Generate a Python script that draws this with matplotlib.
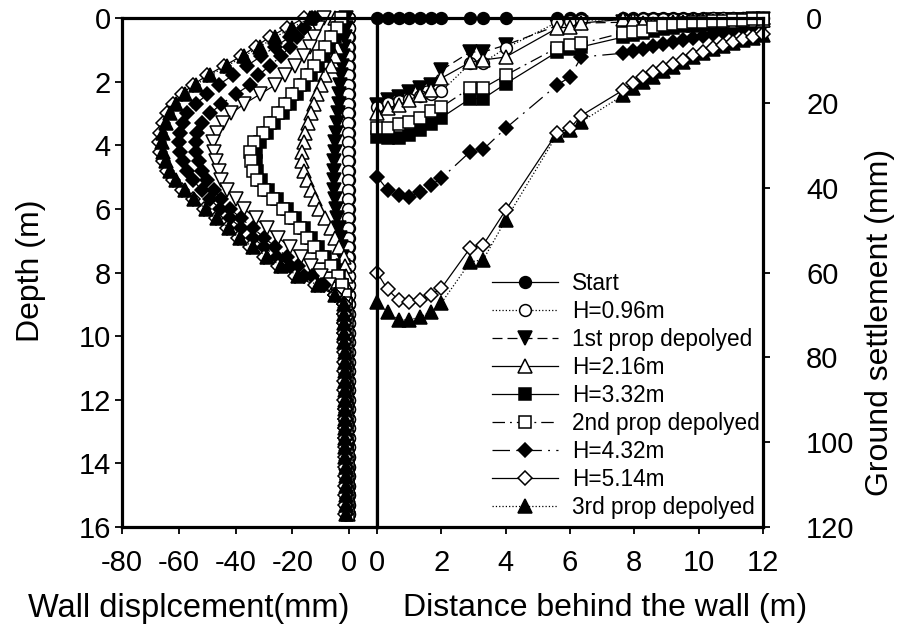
import matplotlib
matplotlib.use('Agg')
import matplotlib.pyplot as plt
from matplotlib.lines import Line2D

plt.rcParams['font.family'] = ['Liberation Sans', 'DejaVu Sans']
plt.rcParams['axes.unicode_minus'] = False

# ---------------- Left panel: wall displacement (mm) vs depth (m) ----------------
depth = [0.0, 0.3, 0.6, 0.9, 1.2, 1.5, 1.8, 2.1, 2.4, 2.7, 3.0, 3.3, 3.6, 3.9, 4.2,
         4.5, 4.8, 5.1, 5.4, 5.7, 6.0, 6.3, 6.6, 6.9, 7.2, 7.5, 7.8, 8.1, 8.4, 8.7,
         9.0, 9.3, 9.6, 9.9, 10.2, 10.5, 10.8, 11.1, 11.4, 11.7, 12.0, 12.3, 12.6,
         12.9, 13.2, 13.5, 13.8, 14.1, 14.4, 14.7, 15.0, 15.3, 15.6]

wall_start = [
    0.0, 0.0, 0.0, 0.0, 0.0, 0.0, 0.0, 0.0, 0.0, 0.0, 0.0, 0.0, 0.0, 0.0, 0.0,
    0.0, 0.0, 0.0, 0.0, 0.0, 0.0, 0.0, 0.0, 0.0, 0.0, 0.0, 0.0, 0.0, 0.0, 0.0,
    0.0, 0.0, 0.0, 0.0, 0.0, 0.0, 0.0, 0.0, 0.0, 0.0, 0.0, 0.0, 0.0, 0.0, 0.0,
    0.0, 0.0, 0.0, 0.0, 0.0, 0.0, 0.0, 0.0]
wall_h096 = [
    0.0, -0.2, -0.3, -0.3, -0.4, -0.4, -0.5, -0.5, -0.5, -0.5, -0.5, -0.5, -0.5, -0.5, -0.5,
    -0.5, -0.5, -0.5, -0.5, -0.4, -0.4, -0.4, -0.3, -0.3, -0.3, -0.3, -0.2, -0.2, -0.2, -0.2,
    -0.2, -0.2, -0.2, -0.2, -0.2, -0.2, -0.2, -0.2, -0.2, -0.2, -0.2, -0.2, -0.2, -0.2, -0.2,
    -0.2, -0.2, -0.2, -0.2, -0.2, -0.2, -0.2, -0.2]
wall_prop1 = [
    -1.0, -1.3, -1.6, -2.0, -2.3, -2.6, -2.9, -3.2, -3.5, -3.8, -4.1, -4.4, -4.7, -5.0, -5.2,
    -5.4, -5.5, -5.5, -5.3, -5.0, -4.6, -4.2, -3.8, -3.4, -3.0, -2.6, -2.3, -2.0, -1.8, -1.6,
    -1.5, -1.4, -1.4, -1.3, -1.3, -1.3, -1.2, -1.2, -1.2, -1.2, -1.1, -1.1, -1.1, -1.1, -1.0,
    -1.0, -1.0, -1.0, -1.0, -0.9, -0.9, -0.9, -0.9]
wall_h216 = [
    -5.0, -4.5, -4.5, -4.5, -5.0, -6.5, -8.5, -10.0, -11.5, -12.5, -13.5, -14.5, -15.5, -16.0, -16.5,
    -16.5, -16.0, -15.0, -13.5, -12.0, -10.5, -8.5, -6.5, -5.0, -3.5, -2.0, -1.5, -1.0, -1.0, -1.0,
    -1.0, -0.9, -0.9, -0.9, -0.9, -0.9, -0.8, -0.8, -0.8, -0.8, -0.8, -0.8, -0.8, -0.7, -0.7,
    -0.7, -0.7, -0.7, -0.7, -0.6, -0.6, -0.6, -0.6]
wall_h332 = [
    -2.5, -3.5, -5.0, -7.0, -9.0, -11.0, -13.5, -16.0, -18.5, -21.0, -23.5, -26.5, -29.0, -31.5, -33.0,
    -33.0, -32.5, -31.0, -28.5, -25.5, -22.0, -19.0, -16.0, -13.5, -11.0, -8.5, -5.5, -3.5, -2.5, -1.5,
    -1.2, -1.2, -1.2, -1.2, -1.1, -1.1, -1.1, -1.1, -1.1, -1.0, -1.0, -1.0, -1.0, -1.0, -1.0,
    -0.9, -0.9, -0.9, -0.9, -0.9, -0.9, -0.8, -0.8]
wall_prop2 = [
    -3.0, -4.5, -6.5, -8.5, -10.5, -12.5, -15.0, -17.5, -20.0, -22.5, -25.0, -28.0, -30.5, -33.5, -35.0,
    -34.5, -34.0, -32.5, -30.0, -27.0, -23.5, -20.5, -17.5, -15.0, -12.5, -9.5, -6.5, -4.0, -2.5, -1.5,
    -1.0, -0.9, -0.9, -0.9, -0.8, -0.8, -0.8, -0.8, -0.8, -0.8, -0.7, -0.7, -0.7, -0.7, -0.7,
    -0.7, -0.6, -0.6, -0.6, -0.6, -0.6, -0.6, -0.6]
wall_h432 = [
    -12.0, -16.0, -21.0, -26.0, -31.0, -36.0, -41.0, -46.0, -50.0, -54.0, -57.0, -58.5, -59.5, -60.0, -59.5,
    -58.5, -57.0, -55.0, -52.0, -49.0, -45.5, -42.0, -38.0, -34.0, -30.0, -25.5, -21.0, -16.0, -10.0, -5.0,
    -2.0, -1.8, -1.7, -1.7, -1.6, -1.6, -1.6, -1.5, -1.5, -1.5, -1.5, -1.4, -1.4, -1.4, -1.4,
    -1.3, -1.3, -1.3, -1.3, -1.2, -1.2, -1.2, -1.2]
wall_extra_dia = [
    -13.0, -16.0, -18.5, -21.0, -24.0, -28.0, -32.0, -35.0, -40.0, -45.0, -49.0, -52.0, -53.5, -54.0, -54.0,
    -53.0, -52.0, -50.0, -47.5, -45.0, -42.0, -38.0, -34.0, -30.0, -26.0, -22.0, -18.0, -13.0, -9.0, -5.0,
    -2.0, -1.6, -1.5, -1.5, -1.5, -1.4, -1.4, -1.4, -1.4, -1.3, -1.3, -1.3, -1.3, -1.2, -1.2,
    -1.2, -1.2, -1.1, -1.1, -1.1, -1.1, -1.0, -1.0]
wall_extra_tri = [
    -9.0, -11.0, -12.5, -14.0, -16.0, -19.0, -22.5, -26.0, -31.5, -37.0, -41.5, -44.5, -46.5, -48.0, -47.5,
    -47.0, -46.0, -45.0, -43.0, -40.0, -37.0, -33.0, -29.0, -25.0, -21.0, -17.0, -13.5, -10.0, -7.0, -4.0,
    -2.0, -1.3, -1.2, -1.2, -1.2, -1.1, -1.1, -1.1, -1.1, -1.0, -1.0, -1.0, -1.0, -1.0, -0.9,
    -0.9, -0.9, -0.9, -0.9, -0.8, -0.8, -0.8, -0.8]
wall_h514 = [
    -16.0, -22.0, -28.0, -33.0, -38.0, -44.0, -50.0, -55.0, -59.0, -62.0, -64.0, -65.5, -66.5, -67.0, -66.5,
    -65.5, -64.0, -62.0, -59.0, -55.0, -51.0, -47.0, -43.0, -39.0, -35.0, -30.0, -25.0, -19.0, -12.0, -5.0,
    -2.0, -1.9, -1.9, -1.8, -1.8, -1.8, -1.8, -1.7, -1.7, -1.7, -1.7, -1.6, -1.6, -1.6, -1.6,
    -1.5, -1.5, -1.5, -1.5, -1.4, -1.4, -1.4, -1.4]
wall_prop3 = [
    -14.0, -20.0, -26.0, -31.5, -37.0, -43.0, -49.0, -54.0, -58.0, -61.0, -63.0, -64.5, -65.5, -66.0, -65.5,
    -64.5, -63.0, -61.0, -58.0, -54.5, -50.5, -46.5, -42.5, -38.5, -34.0, -29.0, -24.0, -18.0, -11.0, -5.0,
    -2.0, -1.8, -1.7, -1.7, -1.7, -1.6, -1.6, -1.6, -1.6, -1.5, -1.5, -1.5, -1.5, -1.4, -1.4,
    -1.4, -1.4, -1.3, -1.3, -1.3, -1.3, -1.2, -1.2]

# ---------------- Right panel: ground settlement (mm) vs distance (m) ----------------
dist = [0.0, 0.33, 0.67, 1.0, 1.33, 1.67, 2.0, 2.9, 3.3, 4.0, 5.6, 6.0, 6.35,
        7.65, 7.96, 8.27, 8.58, 8.89, 9.2, 9.51, 9.82, 10.13, 10.44, 10.75,
        11.06, 11.37, 11.68, 11.99]

set_start = [0.0, 0.0, 0.0, 0.0, 0.0, 0.0, 0.0, 0.0, 0.0, 0.0, 0.0, 0.0, 0.0, 0.0,
             0.0, 0.0, 0.0, 0.0, 0.0, 0.0, 0.0, 0.0, 0.0, 0.0, 0.0, 0.0, 0.0, 0.0]
set_h096 = [21.0, 20.0, 19.5, 19.0, 18.5, 18.0, 17.3, 10.7, 10.5, 7.1, 1.0, 0.8, 0.5, 0.4,
            0.4, 0.3, 0.3, 0.3, 0.2, 0.2, 0.2, 0.2, 0.1, 0.1, 0.1, 0.1, 0.0, 0.0]
set_prop1 = [20.5, 19.3, 18.6, 17.5, 16.5, 15.8, 12.3, 8.0, 8.0, 6.4, 1.8, 1.5, 1.2, 1.0,
             0.9, 0.9, 0.8, 0.8, 0.7, 0.7, 0.6, 0.6, 0.5, 0.5, 0.4, 0.4, 0.3, 0.3]
set_h216 = [22.4, 21.2, 20.5, 19.3, 18.2, 17.0, 14.2, 10.4, 9.9, 9.2, 2.4, 2.1, 1.2, 0.3,
            0.4, 1.2, 1.5, 1.3, 1.0, 0.9, 0.8, 0.8, 0.7, 0.6, 0.6, 0.5, 0.5, 0.4]
set_h332 = [28.0, 28.3, 28.3, 27.5, 26.5, 25.0, 23.5, 19.0, 19.0, 15.5, 8.0, 7.3, 6.8, 4.5,
            4.0, 3.5, 3.0, 2.6, 2.3, 2.0, 1.8, 1.6, 1.4, 1.2, 1.0, 0.9, 0.8, 0.8]
set_prop2 = [26.0, 26.0, 25.0, 24.5, 23.6, 22.0, 21.0, 16.5, 16.5, 13.5, 7.0, 6.4, 6.0, 3.5,
             3.3, 3.0, 2.2, 1.6, 1.4, 1.2, 1.0, 0.9, 0.7, 0.6, 0.5, 0.4, 0.3, 0.3]
set_h432 = [37.4, 40.5, 41.7, 42.2, 41.0, 39.4, 37.8, 31.5, 31.0, 26.0, 15.8, 13.9, 9.2, 8.3,
            7.8, 7.2, 6.7, 6.2, 5.7, 5.2, 4.7, 4.2, 3.8, 3.3, 2.8, 2.3, 1.8, 1.3]
set_h514 = [60.0, 64.0, 66.5, 67.0, 66.5, 65.3, 63.7, 54.2, 53.5, 45.3, 27.0, 26.0, 23.0, 17.0,
            15.3, 13.9, 12.8, 11.8, 10.8, 9.8, 8.8, 7.9, 7.0, 6.3, 5.6, 5.0, 4.4, 3.8]
set_prop3 = [67.0, 69.3, 71.2, 71.2, 70.5, 69.3, 67.2, 57.5, 57.0, 47.6, 27.5, 26.5, 24.5, 18.2,
             16.5, 15.0, 13.8, 12.6, 11.5, 10.4, 9.3, 8.3, 7.4, 6.6, 5.9, 5.2, 4.6, 4.0]

labels = ['Start', 'H=0.96m', '1st prop depolyed', 'H=2.16m', 'H=3.32m',
          '2nd prop depolyed', 'H=4.32m', 'H=5.14m', '3rd prop depolyed']

styles = {
    'Start': dict(marker='o', mfc='black', ls='-', ms=8.5),
    'H=0.96m': dict(marker='o', mfc='white', ls=':', ms=8.5),
    '1st prop depolyed': dict(marker='v', mfc='black', ls=(0, (8, 4)), ms=9.5),
    'H=2.16m': dict(marker='^', mfc='white', ls='-', ms=9.5),
    'H=3.32m': dict(marker='s', mfc='black', ls='-', ms=8),
    '2nd prop depolyed': dict(marker='s', mfc='white', ls=(0, (10, 4, 1.5, 4)), ms=8),
    'H=4.32m': dict(marker='D', mfc='black', ls=(0, (14, 5, 1.5, 5)), ms=7.5),
    'H=5.14m': dict(marker='D', mfc='white', ls='-', ms=7.5),
    '3rd prop depolyed': dict(marker='^', mfc='black', ls=':', ms=9.5),
    'extra_dia': dict(marker='D', mfc='black', ls=(0, (14, 5, 1.5, 5)), ms=7.5),
    'extra_tri': dict(marker='v', mfc='white', ls='-', ms=9.5),
}

left_series = [
    ('Start', wall_start), ('H=0.96m', wall_h096), ('1st prop depolyed', wall_prop1),
    ('H=2.16m', wall_h216), ('H=3.32m', wall_h332), ('2nd prop depolyed', wall_prop2),
    ('extra_tri', wall_extra_tri), ('extra_dia', wall_extra_dia), ('H=4.32m', wall_h432),
    ('H=5.14m', wall_h514), ('3rd prop depolyed', wall_prop3),
]
right_series = [
    ('Start', set_start), ('1st prop depolyed', set_prop1), ('H=3.32m', set_h332),
    ('H=4.32m', set_h432), ('3rd prop depolyed', set_prop3),
    ('H=0.96m', set_h096), ('H=2.16m', set_h216), ('2nd prop depolyed', set_prop2),
    ('H=5.14m', set_h514),
]

W, H = 899, 635
fig = plt.figure(figsize=(W / 100, H / 100), dpi=100)
left_px, mid_px, right_px, top_px, bot_px = 122, 377, 763, 18, 527
axL = fig.add_axes([left_px / W, 1 - bot_px / H, (mid_px - left_px) / W, (bot_px - top_px) / H])
axR = fig.add_axes([mid_px / W, 1 - bot_px / H, (right_px - mid_px) / W, (bot_px - top_px) / H])


def draw(ax, x, y, name):
    st = styles[name]
    ax.plot(x, y, color='black', lw=0.9, ls=st['ls'], marker=st['marker'],
            ms=st['ms'], mfc=st['mfc'], mec='black', mew=1.1, clip_on=False)


for name, vals in left_series:
    draw(axL, vals, depth, name)
for name, vals in right_series:
    draw(axR, dist, vals, name)

axL.set_xlim(-80, 9.75)
axL.set_ylim(16, 0)
axL.set_xticks([-80, -60, -40, -20, 0])
axL.set_yticks([0, 2, 4, 6, 8, 10, 12, 14, 16])

axR.set_xlim(0, 12)
axR.set_ylim(120, 0)
axR.set_xticks([0, 2, 4, 6, 8, 10, 12])
axR.set_yticks([0, 20, 40, 60, 80, 100, 120])
axR.yaxis.tick_right()

for ax in (axL, axR):
    for sp in ax.spines.values():
        sp.set_linewidth(2.3)
    ax.tick_params(direction='out', length=5, width=1.3, labelsize=21)
    ax.tick_params(axis='x', pad=11)
axL.tick_params(axis='y', pad=3)
axR.tick_params(axis='y', pad=26)
axL.set_zorder(1)
axR.set_zorder(2)

handles = []
for name in labels:
    st = styles[name]
    handles.append(Line2D([], [], color='black', lw=0.9, ls=st['ls'], marker=st['marker'],
                          ms=st['ms'], mfc=st['mfc'], mec='black', mew=1.1))
axR.legend(handles, labels, loc='upper left', bbox_to_anchor=(492 / W, 1 - 272 / H),
           bbox_transform=fig.transFigure, frameon=False, fontsize=16.3, numpoints=1,
           handlelength=2.9, handletextpad=0.65, labelspacing=0.22, borderpad=0,
           borderaxespad=0)

fig.text(31 / W, 1 - 271 / H, 'Depth (m)', rotation=90, ha='center', va='center', fontsize=23)
fig.text(880 / W, 1 - 322 / H, 'Ground settlement (mm)', rotation=90, ha='center', va='center',
         fontsize=23)
fig.text(189 / W, 1 - 608 / H, 'Wall displcement(mm)', ha='center', va='center', fontsize=23.5)
fig.text(605 / W, 1 - 608 / H, 'Distance behind the wall (m)', ha='center', va='center', fontsize=23)

fig.savefig('out.png', dpi=100)
